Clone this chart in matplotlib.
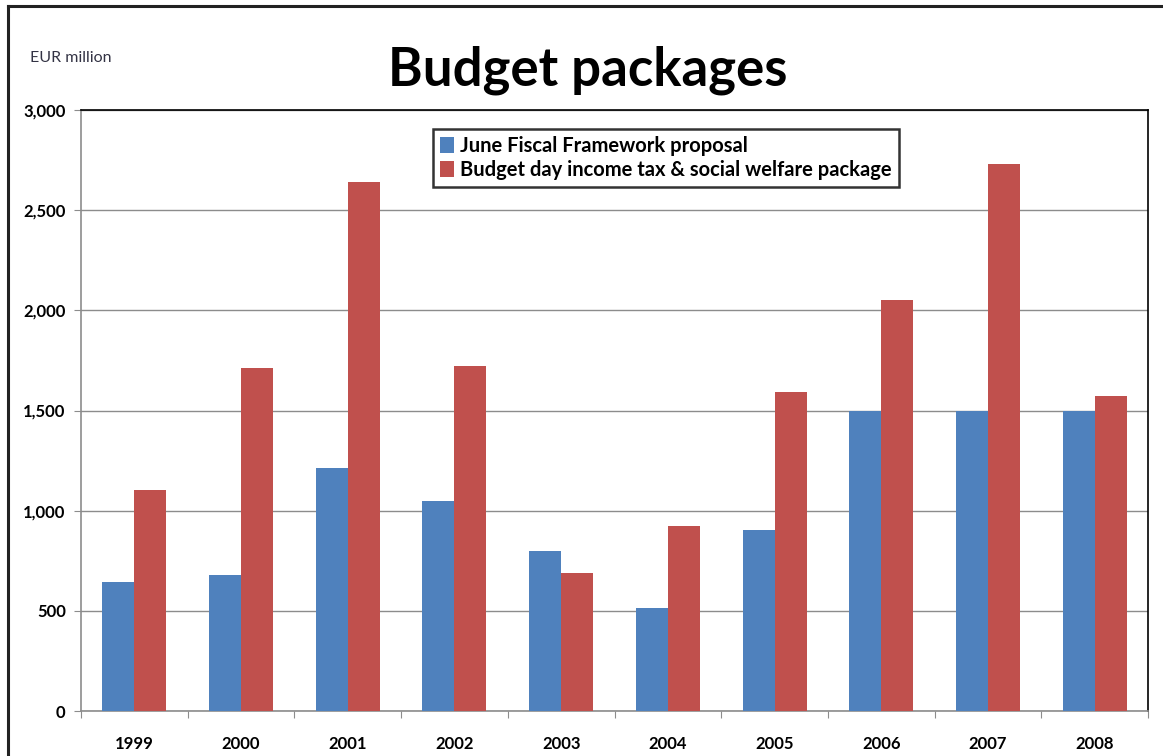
"""
Budget packages: June Fiscal Framework proposal vs Budget day package, 1999-2008
"""
import matplotlib
matplotlib.use("Agg")
import matplotlib.pyplot as plt
import numpy as np
from matplotlib.lines import Line2D
from matplotlib.ticker import FuncFormatter, MultipleLocator

plt.rcParams["font.family"] = ["Lato", "DejaVu Sans"]

years = ["1999", "2000", "2001", "2002", "2003", "2004", "2005", "2006", "2007", "2008"]
june_proposal = [645, 680, 1215, 1050, 800, 515, 905, 1500, 1500, 1500]
budget_day = [1105, 1710, 2640, 1720, 690, 925, 1590, 2050, 2730, 1570]

BLUE = "#4F81BD"
RED = "#C0504D"
W, H = 1163, 756

fig = plt.figure(figsize=(W / 100, H / 100), dpi=100)
ax = fig.add_axes([81 / W, 1 - 711 / H, (1148 - 81) / W, (711 - 110) / H])

x = np.arange(len(years))
bw = 0.3
ax.bar(x - bw / 2, june_proposal, bw, color=BLUE, label="June Fiscal Framework proposal", zorder=3)
ax.bar(x + bw / 2, budget_day, bw, color=RED,
       label="Budget day income tax & social welfare package", zorder=3)

ax.set_xlim(-0.5, len(years) - 0.5)
ax.set_ylim(0, 3000)
ax.yaxis.set_major_locator(MultipleLocator(500))
ax.yaxis.set_major_formatter(FuncFormatter(lambda v, p: f"{v:,.0f}"))
ax.grid(axis="y", color="#8c8c8c", lw=1, zorder=0)

# categories between tick marks
ax.set_xticks(np.arange(len(years) + 1) - 0.5)
ax.set_xticklabels([])
ax.set_xticks(x, minor=True)
ax.set_xticklabels(years, minor=True, fontweight="bold", fontsize=12)
ax.tick_params(axis="x", which="minor", length=0, pad=18)
ax.tick_params(axis="x", which="major", length=5, color="#8c8c8c", direction="out")
ax.tick_params(axis="y", length=5, color="#8c8c8c", labelsize=12, pad=6)
for t in ax.get_yticklabels():
    t.set_fontweight("bold")

ax.spines["left"].set_color("#8c8c8c")
ax.spines["bottom"].set_color("#8c8c8c")
ax.spines["top"].set_color("black")
ax.spines["right"].set_color("black")
for s in ax.spines.values():
    s.set_linewidth(1.2)

leg = ax.legend(loc="upper left", bbox_to_anchor=((433 - 81) / (1148 - 81), 1 - (129 - 110) / 601),
                frameon=True, fancybox=False, shadow=False, prop={"weight": "bold", "size": 14.5},
                handlelength=0.7, handleheight=0.9, handletextpad=0.3, borderpad=0.35,
                labelspacing=0.2, borderaxespad=0)
leg.get_frame().set_edgecolor("black")
leg.get_frame().set_linewidth(1.8)

fig.text(388 / W, 1 - 70 / H, "Budget packages", fontsize=38, fontweight="bold", va="center", ha="left")
fig.text(30 / W, 1 - 58 / H, "EUR million", fontsize=11.5, color="#333344", va="center")

# outer frame of the chart
fig.add_artist(Line2D([8 / W, 8 / W], [0, 1 - 6 / H], color="#222222", lw=2.2, transform=fig.transFigure))
fig.add_artist(Line2D([8 / W, 1], [1 - 6 / H, 1 - 6 / H], color="#222222", lw=2.2, transform=fig.transFigure))

fig.savefig("out.png", dpi=100)
